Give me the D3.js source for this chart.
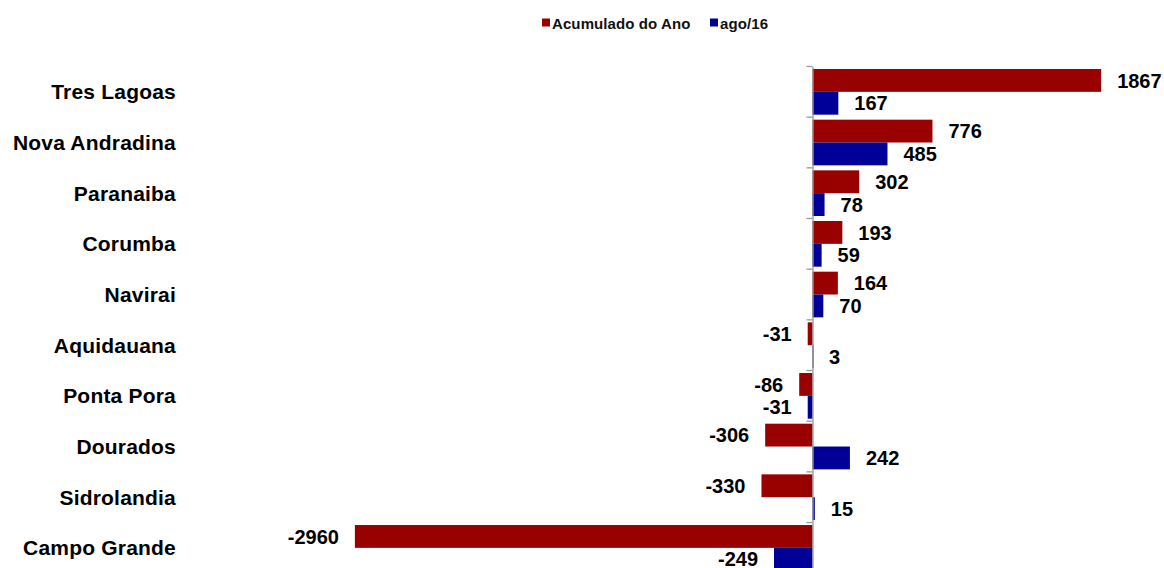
<!DOCTYPE html>
<html><head><meta charset="utf-8">
<script src="https://cdn.jsdelivr.net/npm/d3@7/dist/d3.min.js"></script>
<style>body{margin:0;background:#fff}svg{display:block}</style>
</head><body>
<svg id="c" width="1164" height="568"></svg>
<script>
const categories = ["Tres Lagoas","Nova Andradina","Paranaiba","Corumba","Navirai","Aquidauana","Ponta Pora","Dourados","Sidrolandia","Campo Grande"];
const seriesNames = ["Acumulado do Ano","ago/16"];
const acumulado = [1867,776,302,193,164,-31,-86,-306,-330,-2960];
const ago16 = [167,485,78,59,70,3,-31,242,15,-249];
const colors = ["#990000","#000099"];

const svg = d3.select("#c");
const x = d3.scaleLinear().domain([-3000,2000]).range([348.7,1121.7]);
const y = d3.scaleBand().domain(categories).range([66.5,573.2]).padding(0);
const sub = d3.scaleBand().domain(seriesNames).range([2.5,y.bandwidth()-2.5]).padding(0);
const series = [acumulado, ago16];

const g = svg.append("g");
categories.forEach((c,i)=>{
  series.forEach((s,k)=>{
    const v = s[i];
    const yy = y(c)+sub(seriesNames[k]);
    g.append("rect")
      .attr("x", Math.min(x(0),x(v)))
      .attr("y", yy)
      .attr("width", Math.max(1, Math.abs(x(v)-x(0))))
      .attr("height", sub.bandwidth())
      .attr("fill", colors[k]);
    g.append("text")
      .attr("x", v>=0 ? x(v)+16 : x(v)-16)
      .attr("y", yy+sub.bandwidth()/2)
      .attr("dy","0.36em")
      .attr("text-anchor", v>=0 ? "start":"end")
      .attr("font-family","Liberation Sans, Arial, sans-serif")
      .attr("font-weight","bold")
      .attr("font-size","20px")
      .attr("fill","#000")
      .text(v);
  });
});

// axis at zero
const ax = svg.append("g").attr("transform",`translate(${x(0)},0)`)
  .call(d3.axisLeft(y).tickSize(0).tickFormat(""));
ax.select(".domain").attr("stroke","#999").attr("stroke-width",1.3);
ax.selectAll(".tick").remove();
const bounds = categories.map(c=>y(c));
ax.selectAll("line.bt").data(bounds).enter().append("line")
  .attr("x1",-6).attr("x2",0).attr("y1",d=>d).attr("y2",d=>d)
  .attr("stroke","#999").attr("stroke-width",1.3);

// category labels
svg.append("g").selectAll("text").data(categories).enter().append("text")
  .attr("x",176).attr("y",d=>y(d)+y.bandwidth()/2).attr("dy","0.36em")
  .attr("text-anchor","end")
  .attr("font-family","Liberation Sans, Arial, sans-serif")
  .attr("font-weight","bold").attr("font-size","21px").attr("fill","#000")
  .attr("letter-spacing","0.2px")
  .text(d=>d);

// legend
const leg = svg.append("g");
const legItems = [{n:seriesNames[0],c:colors[0],x:542},{n:seriesNames[1],c:colors[1],x:710}];
legItems.forEach(it=>{
  leg.append("rect").attr("x",it.x).attr("y",18.5).attr("width",8).attr("height",8).attr("fill",it.c);
  leg.append("text").attr("x",it.x+10).attr("y",29)
    .attr("font-family","Liberation Sans, Arial, sans-serif")
    .attr("font-size","15px").attr("font-weight","bold").attr("fill","#111")
    .attr("letter-spacing","0.1px")
    .text(it.n);
});
</script>
</body></html>
